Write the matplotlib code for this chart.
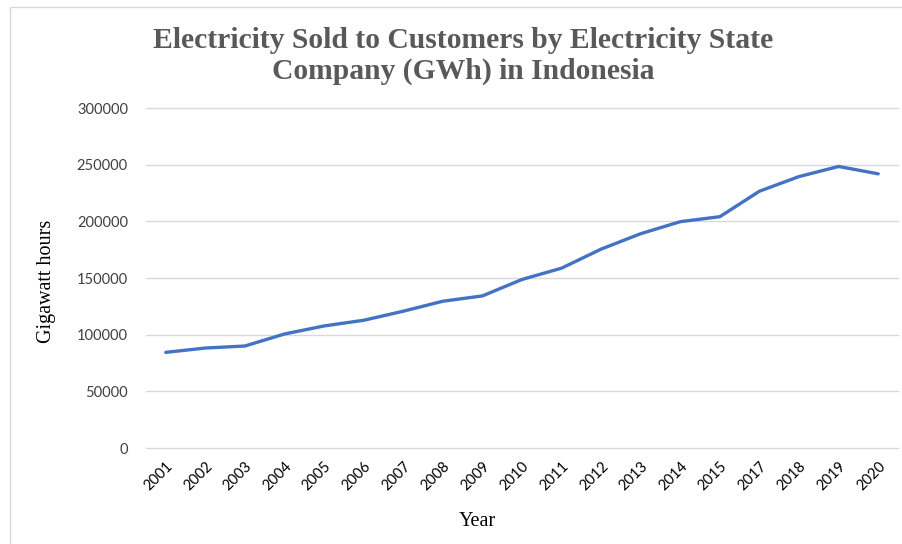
import matplotlib
matplotlib.use("Agg")
import matplotlib.pyplot as plt
from matplotlib.patches import Rectangle

years = ["2001", "2002", "2003", "2004", "2005", "2006", "2007", "2008", "2009", "2010",
         "2011", "2012", "2013", "2014", "2015", "2017", "2018", "2019", "2020"]
gwh = [84400, 88200, 90000, 100600, 107700, 112700, 120700, 129500, 134200, 148700,
       158700, 175500, 189100, 199700, 204100, 226600, 239500, 248400, 241900]
yticks = [0, 50000, 100000, 150000, 200000, 250000, 300000]

W, H = 902, 544
fig = plt.figure(figsize=(W / 100, H / 100), dpi=100)
fig.patch.set_facecolor("white")
fig.patches.append(Rectangle((10 / W, -0.1), 1.2, (H - 7) / H + 0.1, transform=fig.transFigure,
                             fill=False, edgecolor="#D9D9D9", linewidth=1.0))

ax = fig.add_axes([146 / W, 1 - 448 / H, (898 - 146) / W, (448 - 108) / H])
x = list(range(len(years)))
ax.plot(x, gwh, color="#4472C4", linewidth=2.4, solid_capstyle="round", zorder=3)
ax.set_xlim(-0.5, len(years) - 0.5)
ax.set_ylim(0, 300000)
ax.set_yticks(yticks)
ax.set_yticklabels([str(v) for v in yticks], fontfamily="Lato", fontsize=10.5, color="#404040")
ax.set_xticks(x)
ax.set_xticklabels(years, rotation=45, ha="right", rotation_mode="anchor",
                   fontfamily="Lato", fontsize=10.5, color="#000000")
ax.tick_params(axis="both", length=0)
ax.tick_params(axis="y", pad=13)
ax.tick_params(axis="x", pad=8)
ax.grid(axis="y", color="#D9D9D9", linewidth=1.0)
for gl in ax.get_ygridlines():
    gl.set_clip_on(False)
ax.set_axisbelow(True)
for s in ax.spines.values():
    s.set_visible(False)

fig.text(463 / W, 1 - 56 / H, "Electricity Sold to Customers by Electricity State\nCompany (GWh) in Indonesia",
         ha="center", va="center", fontfamily="Liberation Serif", fontweight="bold",
         fontsize=21.3, color="#595959", linespacing=1.2)
fig.text(46 / W, 1 - 281 / H, "Gigawatt hours", rotation=90, ha="center", va="center",
         fontfamily="Liberation Serif", fontsize=14.5, color="#000000")
fig.text(477 / W, 1 - 521 / H, "Year", ha="center", va="center",
         fontfamily="Liberation Serif", fontsize=14.5, color="#000000")

fig.savefig("out.png", dpi=100)
